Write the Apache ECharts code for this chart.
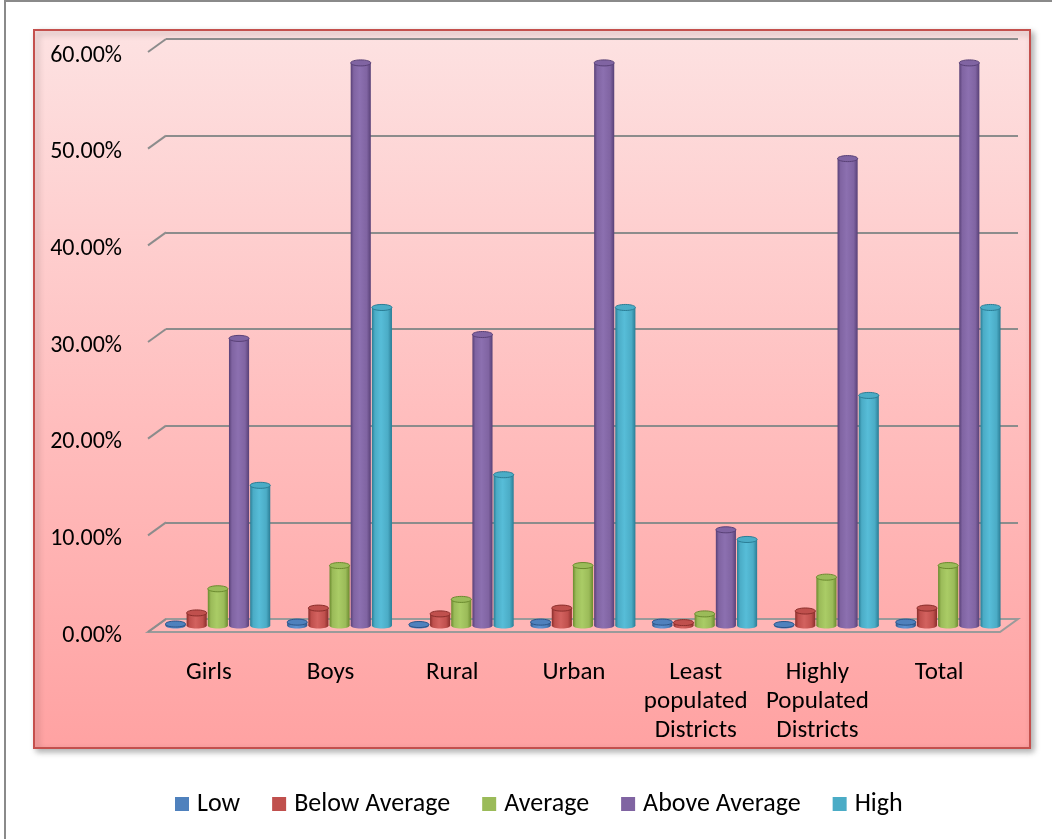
<!DOCTYPE html>
<html>
<head>
<meta charset="utf-8">
<script src="https://cdn.jsdelivr.net/npm/echarts@6/dist/echarts.min.js"></script>
<style>
  html, body { margin: 0; padding: 0; background: #ffffff; }
  #chart { width: 1052px; height: 839px; }
</style>
</head>
<body>
<div id="chart"></div>
<script>
// Share of pupils by performance band, per group
const categories = ['Girls', 'Boys', 'Rural', 'Urban', 'Least\npopulated\nDistricts', 'Highly\nPopulated\nDistricts', 'Total'];
const seriesNames = ['Low', 'Below Average', 'Average', 'Above Average', 'High'];
const low          = [0.15, 0.35, 0.1, 0.35, 0.35, 0.1, 0.35];
const belowAverage = [1.3, 1.8, 1.2, 1.8, 0.3, 1.5, 1.8];
const average      = [3.8, 6.2, 2.7, 6.2, 1.2, 5.0, 6.2];
const aboveAverage = [29.7, 58.2, 30.1, 58.2, 9.9, 48.3, 58.2];
const high         = [14.5, 32.9, 15.6, 32.9, 8.9, 23.8, 32.9];
const yTicks = [0, 10, 20, 30, 40, 50, 60];

const seriesValues = [low, belowAverage, average, aboveAverage, high];
// base, dark edge, light centre
const palette = [
  ['#4f81bd', '#2c5487', '#5e93d3'],
  ['#c0504d', '#8a2e2b', '#d3625f'],
  ['#9bbb59', '#6a8a2e', '#aacc66'],
  ['#8064a2', '#584076', '#8c70b0'],
  ['#4bacc6', '#2a7d95', '#57bdd8']
];

const FONT = 'Carlito, Lato, sans-serif';
const DEPTH_X = 18, DEPTH_Y = -13;

const chart = echarts.init(document.getElementById('chart'), null, { renderer: 'canvas' });

function cylinderRenderer(s) {
  return function (params, api) {
    const cat = api.value(0);
    const base = api.coord([cat, 0]);
    const top = api.coord([cat, api.value(1)]);
    const band = api.size([1, 0])[0];
    const slot = band * 0.174;
    const w = slot * 0.95;
    const cx = base[0] + (s - 2) * slot;
    const rx = w / 2, ry = w * 0.15;
    const c = palette[s];
    const bodyFill = new echarts.graphic.LinearGradient(0, 0, 1, 0, [
      { offset: 0, color: c[1] },
      { offset: 0.15, color: c[0] },
      { offset: 0.45, color: c[2] },
      { offset: 0.8, color: c[0] },
      { offset: 1, color: c[1] }
    ]);
    return {
      type: 'group',
      children: [
        { type: 'ellipse', shape: { cx: cx, cy: base[1], rx: rx, ry: ry }, style: { fill: bodyFill } },
        { type: 'rect', shape: { x: cx - rx, y: top[1], width: w, height: Math.max(base[1] - top[1], 0) }, style: { fill: bodyFill } },
        { type: 'ellipse', shape: { cx: cx, cy: top[1], rx: rx, ry: ry }, style: { fill: c[0], stroke: c[1], lineWidth: 1 } }
      ]
    };
  };
}

const barSeries = seriesValues.map((vals, s) => ({
  name: seriesNames[s],
  type: 'custom',
  xAxisIndex: 2,
  yAxisIndex: 2,
  z: 5,
  itemStyle: { color: palette[s][0] },
  encode: { x: 0, y: 1 },
  data: vals.map((v, i) => [i, v]),
  renderItem: cylinderRenderer(s)
}));

// Wall-to-floor connectors and the floor slab
const frameSeries = {
  type: 'custom',
  xAxisIndex: 1,
  yAxisIndex: 1,
  silent: true,
  z: 1,
  data: yTicks.map(v => [0, v]),
  encode: { x: 0, y: 1 },
  renderItem: function (params, api) {
    const cs = params.coordSys;
    const y = api.coord([0, api.value(1)])[1];
    const children = [
      { type: 'line', shape: { x1: cs.x, y1: y, x2: cs.x + DEPTH_X, y2: y + DEPTH_Y }, style: { stroke: '#8c8c8c', lineWidth: 2 } }
    ];
    if (api.value(1) === 0) {
      const x0 = cs.x, x1 = cs.x + cs.width;
      children.unshift({
        type: 'polygon',
        shape: { points: [[x0, y], [x1, y], [x1 + DEPTH_X, y + DEPTH_Y], [x0 + DEPTH_X, y + DEPTH_Y]] },
        style: { fill: 'rgba(255,200,200,0.35)', stroke: '#9a9a9a', lineWidth: 2 }
      });
    }
    return { type: 'group', children: children };
  }
};

const option = {
  animation: false,
  textStyle: { fontFamily: FONT },
  graphic: [
    {
      type: 'rect', z: -10,
      shape: { x: 34, y: 30, width: 996, height: 718 },
      style: {
        fill: new echarts.graphic.LinearGradient(0, 0, 0, 1, [
          { offset: 0, color: '#fde2e2' },
          { offset: 0.55, color: '#ffbdbd' },
          { offset: 1, color: '#ffa2a2' }
        ]),
        stroke: '#c4504d', lineWidth: 2,
        shadowBlur: 6, shadowOffsetX: 3, shadowOffsetY: 3, shadowColor: 'rgba(0,0,0,0.3)'
      }
    },
    { type: 'line', z: -10, shape: { x1: 5, y1: 1, x2: 1052, y2: 1 }, style: { stroke: '#8a8a8a', lineWidth: 2 } },
    { type: 'line', z: -10, shape: { x1: 5, y1: 0, x2: 5, y2: 839 }, style: { stroke: '#8a8a8a', lineWidth: 2 } }
  ],
  legend: {
    data: seriesNames,
    left: 170,
    top: 786,
    itemWidth: 14,
    itemHeight: 14,
    itemGap: 32,
    icon: 'rect',
    textStyle: { fontFamily: FONT, fontSize: 26, color: '#000', padding: [0, 0, 0, 3] }
  },
  grid: [
    { left: 166, right: 34, top: 39, bottom: 220 },   // back wall
    { left: 148, right: 52, top: 52, bottom: 207 },   // front plane
    { left: 157, right: 43, top: 45.5, bottom: 213.5 } // bars, mid depth
  ],
  xAxis: [
    { gridIndex: 0, type: 'category', data: categories, show: false },
    {
      gridIndex: 1, type: 'category', data: categories,
      axisLine: { show: false }, axisTick: { show: false },
      axisLabel: { interval: 0, margin: 26, fontFamily: FONT, fontSize: 25, lineHeight: 29, color: '#000', align: 'center' }
    },
    { gridIndex: 2, type: 'category', data: categories, show: false }
  ],
  yAxis: [
    {
      gridIndex: 0, type: 'value', min: 0, max: 60, interval: 10,
      axisLine: { show: false }, axisTick: { show: false }, axisLabel: { show: false },
      splitLine: { show: true, lineStyle: { color: '#8c8c8c', width: 2 } }
    },
    {
      gridIndex: 1, type: 'value', min: 0, max: 60, interval: 10,
      axisLine: { show: false }, axisTick: { show: false }, splitLine: { show: false },
      axisLabel: {
        margin: 26, color: '#000',
        formatter: v => '{p|' + v.toFixed(2) + '%}',
        rich: { p: { fontFamily: FONT, fontSize: 24, color: '#000', padding: [7, 0, 0, 0] } }
      }
    },
    { gridIndex: 2, type: 'value', min: 0, max: 60, interval: 10, show: false, splitLine: { show: false } }
  ],
  series: [frameSeries].concat(barSeries)
};

chart.setOption(option);
</script>
</body>
</html>
